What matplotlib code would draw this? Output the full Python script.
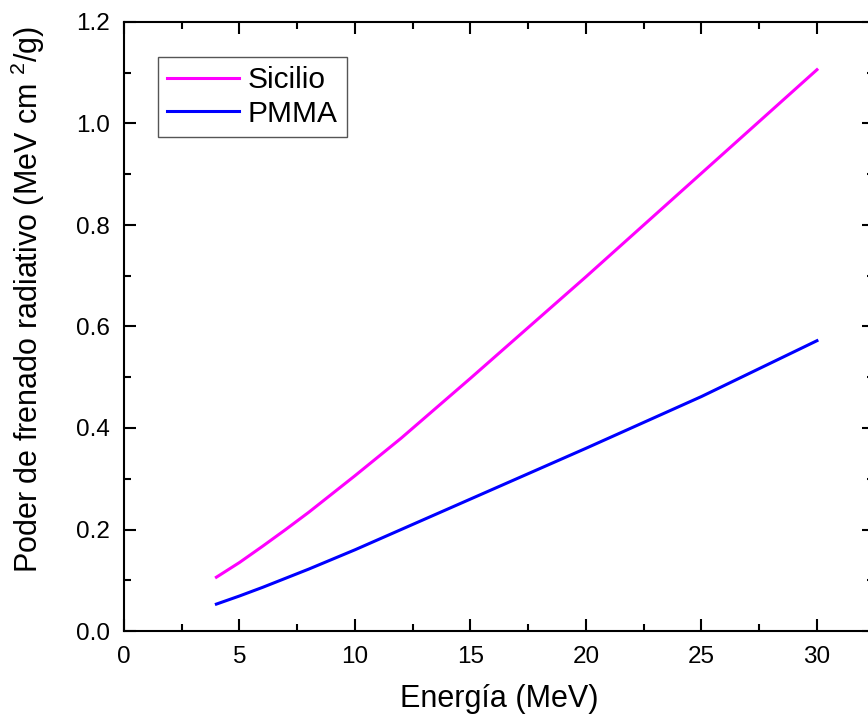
import matplotlib
matplotlib.use("Agg")
import matplotlib.pyplot as plt
from matplotlib.ticker import MultipleLocator, FormatStrFormatter

energy = [4, 5, 6, 7, 8, 10, 12, 15, 20, 25, 30]
sicilio = [0.106, 0.135, 0.167, 0.200, 0.234, 0.306, 0.380, 0.498, 0.698, 0.902, 1.106]
pmma = [0.053, 0.069, 0.086, 0.104, 0.122, 0.160, 0.200, 0.260, 0.360, 0.462, 0.572]

plt.rcParams['font.family'] = ['Liberation Sans', 'DejaVu Sans']
plt.rcParams['mathtext.fontset'] = 'custom'
plt.rcParams['mathtext.rm'] = 'Liberation Sans'

W, H = 868, 719
fig = plt.figure(figsize=(W / 100, H / 100), dpi=100)
left, right, top, bottom = 124, 874, 22, 631
ax = fig.add_axes([left / W, (H - bottom) / H, (right - left) / W, (bottom - top) / H])

ax.plot(energy, sicilio, color='#FF00FF', lw=2.2, label='Sicilio')
ax.plot(energy, pmma, color='#0000FF', lw=2.2, label='PMMA')

ax.set_xlim(0, 32.47)
ax.set_ylim(0, 1.2)
ax.xaxis.set_major_locator(MultipleLocator(5))
ax.xaxis.set_minor_locator(MultipleLocator(2.5))
ax.yaxis.set_major_locator(MultipleLocator(0.2))
ax.yaxis.set_minor_locator(MultipleLocator(0.1))
ax.yaxis.set_major_formatter(FormatStrFormatter('%.1f'))

for s in ax.spines.values():
    s.set_linewidth(1.5)
ax.tick_params(which='both', direction='in', top=True, right=True, width=1.5,
               labelsize=17.5)
ax.tick_params(axis='x', pad=10.5)
ax.tick_params(axis='y', pad=10)
ax.tick_params(which='major', length=8.6)
ax.tick_params(which='minor', length=5)

ax.set_xlabel('Energía (MeV)', fontsize=22, labelpad=12)
ax.set_ylabel('Poder de frenado radiativo (MeV cm $^{2}$/g)', fontsize=22)
ax.yaxis.set_label_coords(-0.1033, 0.545)

leg = ax.legend(loc='upper left', bbox_to_anchor=(0.0456, 0.9425), fontsize=21.5,
                frameon=True, fancybox=False, edgecolor='#555555', framealpha=1,
                handlelength=2.4, handletextpad=0.3, labelspacing=0.2,
                borderpad=0.3, borderaxespad=0)
leg.get_frame().set_linewidth(1.0)

fig.savefig('out.png', dpi=100)
